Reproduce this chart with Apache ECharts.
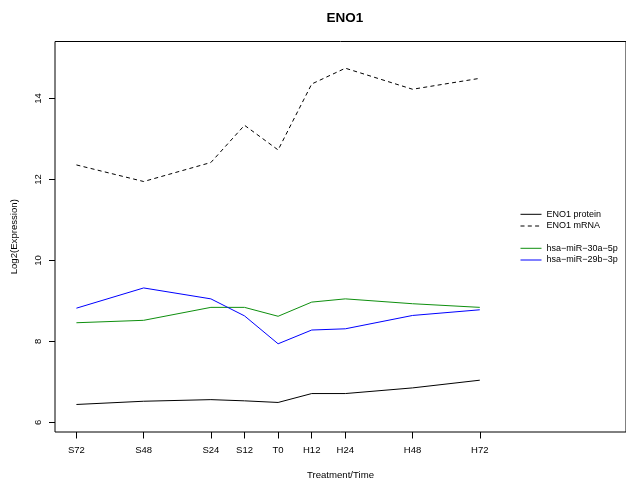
<!DOCTYPE html>
<html>
<head>
<meta charset="utf-8">
<script src="https://cdn.jsdelivr.net/npm/echarts@6/dist/echarts.min.js"></script>
<style>
  html, body { margin: 0; padding: 0; background: #fff; }
  #chart { width: 626px; height: 485px; }
</style>
</head>
<body>
<div id="chart"></div>
<script>
// Time points in hours (S = before, T0 = start, H = after)
const hours = [-72, -48, -24, -12, 0, 12, 24, 48, 72];
const timeLabels = ['S72', 'S48', 'S24', 'S12', 'T0', 'H12', 'H24', 'H48', 'H72'];
const yTicks = [6, 8, 10, 12, 14];

// Log2 expression per time point
const proteinValues = [6.44, 6.52, 6.56, 6.53, 6.49, 6.71, 6.71, 6.85, 7.04];
const mrnaValues    = [12.36, 11.95, 12.42, 13.34, 12.73, 14.36, 14.75, 14.23, 14.50];
const mir30aValues  = [8.46, 8.52, 8.84, 8.84, 8.62, 8.97, 9.05, 8.93, 8.84];
const mir29bValues  = [8.82, 9.32, 9.05, 8.63, 7.94, 8.28, 8.31, 8.64, 8.78];

const seriesNames = ['ENO1 protein', 'ENO1 mRNA', 'hsa\u2212miR\u221230a\u22125p', 'hsa\u2212miR\u221229b\u22123p'];

const FONT = '"Liberation Sans", Arial, Helvetica, sans-serif';
const pairs = vals => hours.map((h, i) => [h, vals[i]]);

function lineSeries(name, vals, color, type) {
  return {
    name: name,
    type: 'line',
    data: pairs(vals),
    symbol: 'none',
    showSymbol: false,
    silent: true,
    color: color,
    lineStyle: { color: color, width: 1, type: type || 'solid' }
  };
}

function legendBlock(names, top) {
  return {
    data: names,
    orient: 'vertical',
    left: 520,
    top: top,
    padding: 0,
    itemWidth: 21,
    itemHeight: 10,
    itemGap: 1.7,
    selectedMode: false,
    itemStyle: { opacity: 0 },
    lineStyle: { width: 1 },
    textStyle: { fontFamily: FONT, fontSize: 9, color: '#000', lineHeight: 10 }
  };
}

const chart = echarts.init(document.getElementById('chart'), null, { renderer: 'canvas' });

chart.setOption({
  animation: false,
  backgroundColor: '#fff',
  textStyle: { fontFamily: FONT, color: '#000' },
  title: {
    text: 'ENO1',
    left: 345,
    top: 11,
    padding: 0,
    textAlign: 'center',
    textStyle: { fontFamily: FONT, fontSize: 13.5, fontWeight: 'bold', color: '#000' }
  },
  grid: {
    left: 55,
    top: 41.5,
    right: -7,
    bottom: 52.3,
    show: true,
    borderColor: '#000',
    borderWidth: 1,
    backgroundColor: 'transparent'
  },
  legend: [
    legendBlock([seriesNames[0], seriesNames[1]], 209.3),
    legendBlock([seriesNames[2], seriesNames[3]], 243.3)
  ],
  xAxis: {
    type: 'value',
    min: -79.65,
    max: 124.2,
    axisLine: { show: false, onZero: false },
    splitLine: { show: false },
    axisTick: {
      show: true,
      customValues: hours,
      length: 6.5,
      lineStyle: { color: '#000', width: 1 }
    },
    axisLabel: {
      customValues: hours,
      formatter: v => timeLabels[hours.indexOf(v)],
      margin: 13,
      fontFamily: FONT,
      fontSize: 9.5,
      color: '#000'
    },
    name: 'Treatment/Time',
    nameLocation: 'middle',
    nameGap: 38,
    nameTextStyle: { fontFamily: FONT, fontSize: 9.6, color: '#000' }
  },
  yAxis: {
    type: 'value',
    min: 5.76,
    max: 15.41,
    axisLine: { show: false, onZero: false },
    splitLine: { show: false },
    axisTick: {
      show: true,
      customValues: yTicks,
      length: 6,
      lineStyle: { color: '#000', width: 1 }
    },
    axisLabel: {
      customValues: yTicks,
      rotate: 90,
      margin: 12,
      fontFamily: FONT,
      fontSize: 9.5,
      color: '#000'
    },
    name: 'Log2(Expression)',
    nameLocation: 'middle',
    nameGap: 36,
    nameTextStyle: { fontFamily: FONT, fontSize: 9.6, color: '#000' }
  },
  series: [
    lineSeries(seriesNames[0], proteinValues, '#000000'),
    lineSeries(seriesNames[1], mrnaValues, '#000000', [4, 3.3]),
    lineSeries(seriesNames[2], mir30aValues, '#0e8f0e'),
    lineSeries(seriesNames[3], mir29bValues, '#0000ff')
  ]
});
</script>
</body>
</html>
